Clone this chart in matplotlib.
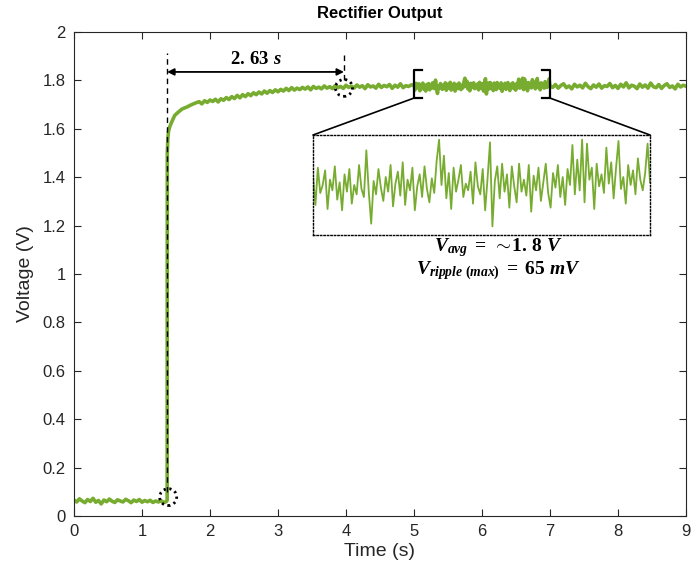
#!/usr/bin/env python3
"""Rectifier output trace with zoomed ripple inset"""

import numpy as np
import matplotlib
matplotlib.use('Agg')
import matplotlib.pyplot as plt
from matplotlib.patches import Ellipse, ConnectionPatch

# --------------------------------------------------
# readings (V)
baseline_t0, baseline_dt = 0.0, 0.04
baseline_v = [0.066, 0.058, 0.071, 0.062, 0.055, 0.068, 0.060, 0.073, 0.057,
              0.064, 0.050, 0.066, 0.059, 0.070, 0.061, 0.056, 0.067, 0.062,
              0.058, 0.069, 0.063, 0.055, 0.066, 0.060, 0.068, 0.057, 0.064,
              0.059, 0.065, 0.056, 0.062, 0.058, 0.063, 0.055, 0.060]

rise_t = [1.37, 1.372, 1.38, 1.39, 1.41, 1.44, 1.48, 1.53, 1.59, 1.66, 1.73]
rise_v = [0.065, 1.50, 1.56, 1.59, 1.61, 1.63, 1.655, 1.668, 1.682, 1.690,
          1.700]

settle_t0, settle_dt = 1.80, 0.04
settle_v = [1.708, 1.712, 1.703, 1.716, 1.709, 1.719, 1.713, 1.722, 1.711, 1.724,
            1.718, 1.729, 1.721, 1.733, 1.725, 1.738, 1.728, 1.741, 1.733, 1.745,
            1.737, 1.749, 1.741, 1.752, 1.744, 1.756, 1.747, 1.758, 1.750, 1.761,
            1.753, 1.763, 1.756, 1.767, 1.758, 1.770, 1.760, 1.768, 1.762, 1.771,
            1.764, 1.773, 1.761, 1.775, 1.767, 1.772, 1.765, 1.777, 1.768, 1.774,
            1.766, 1.778, 1.770, 1.775, 1.767, 1.780, 1.771, 1.776, 1.769, 1.781,
            1.772, 1.778, 1.766, 1.782, 1.773, 1.777, 1.768, 1.784, 1.771, 1.779,
            1.774, 1.783, 1.767, 1.780, 1.772, 1.786, 1.770, 1.778, 1.775, 1.781]

# zoomed window 5 s .. 7 s
zoom_start, zoom_end = 5.0, 7.0
zoom_v = [1.782, 1.760, 1.788, 1.769, 1.775, 1.786, 1.757, 1.779, 1.771, 1.789,
          1.764, 1.777, 1.756, 1.783, 1.770, 1.787, 1.761, 1.775, 1.768, 1.790,
          1.772, 1.766, 1.801, 1.770, 1.746, 1.778, 1.768, 1.787, 1.773, 1.763,
          1.781, 1.770, 1.790, 1.759, 1.776, 1.785, 1.767, 1.792, 1.760, 1.779,
          1.771, 1.788, 1.756, 1.774, 1.783, 1.766, 1.789, 1.772, 1.762, 1.780,
          1.769, 1.793, 1.809, 1.775, 1.797, 1.765, 1.784, 1.757, 1.788, 1.770,
          1.779, 1.790, 1.766, 1.776, 1.771, 1.785, 1.761, 1.792, 1.774, 1.768,
          1.787, 1.756, 1.780, 1.807, 1.744, 1.778, 1.789, 1.765, 1.791, 1.770,
          1.783, 1.758, 1.789, 1.774, 1.762, 1.791, 1.770, 1.779, 1.767, 1.790,
          1.755, 1.782, 1.771, 1.788, 1.763, 1.777, 1.791, 1.769, 1.758, 1.784,
          1.773, 1.790, 1.766, 1.781, 1.760, 1.787, 1.775, 1.805, 1.768, 1.794,
          1.771, 1.809, 1.762, 1.806, 1.779, 1.788, 1.757, 1.791, 1.774, 1.783,
          1.769, 1.803, 1.776, 1.792, 1.765, 1.788, 1.808, 1.772, 1.781, 1.761,
          1.790, 1.775, 1.786, 1.768, 1.795, 1.779, 1.771, 1.784, 1.806, 1.777]

tail_t0, tail_dt = 7.04, 0.04
tail_v = [1.771, 1.783, 1.768, 1.779, 1.786, 1.770, 1.777, 1.765, 1.784, 1.773,
          1.780, 1.769, 1.788, 1.774, 1.766, 1.781, 1.772, 1.785, 1.768, 1.778,
          1.775, 1.787, 1.770, 1.779, 1.767, 1.784, 1.773, 1.790, 1.769, 1.780,
          1.776, 1.766, 1.785, 1.772, 1.781, 1.768, 1.789, 1.774, 1.770, 1.783,
          1.767, 1.779, 1.786, 1.771, 1.777, 1.765, 1.784, 1.773, 1.780, 1.776]

x_ticks = [0, 1, 2, 3, 4, 5, 6, 7, 8, 9]
y_ticks = [0, 0.2, 0.4, 0.6, 0.8, 1.0, 1.2, 1.4, 1.6, 1.8, 2.0]
y_tick_labels = ['0', '0.2', '0.4', '0.6', '0.8', '1', '1.2', '1.4', '1.6',
                 '1.8', '2']

t_on, t_settle = 1.37, 3.97
delay_label = r'$\mathbf{2.\,63}\ \mathit{s}$'
avg_label = r'$V_{avg}\;=\;\sim\!\mathbf{1.\,8}\ V$'
ripple_label = r'$V_{ripple\ (max)}\;=\;\mathbf{65}\ mV$'

GREEN = '#77AC30'
DARK = '#262626'


# --------------------------------------------------
def main():
    """Draw the figure"""

    plt.rcParams['font.family'] = ['Liberation Sans', 'DejaVu Sans']
    plt.rcParams['mathtext.fontset'] = 'custom'
    plt.rcParams['mathtext.rm'] = 'Liberation Serif:bold'
    plt.rcParams['mathtext.it'] = 'Liberation Serif:bold:italic'
    plt.rcParams['mathtext.bf'] = 'Liberation Serif:bold'

    t_base = baseline_t0 + baseline_dt * np.arange(len(baseline_v))
    t_settle_arr = settle_t0 + settle_dt * np.arange(len(settle_v))
    t_zoom = np.linspace(zoom_start, zoom_end, len(zoom_v))
    t_tail = tail_t0 + tail_dt * np.arange(len(tail_v))

    t = np.concatenate([t_base, rise_t, t_settle_arr, t_zoom, t_tail])
    v = np.concatenate([baseline_v, rise_v, settle_v, zoom_v, tail_v])

    fig = plt.figure(figsize=(6.91, 5.71), dpi=100)
    ax = fig.add_axes([74 / 691, 1 - 516 / 571, 612 / 691, 484 / 571])
    ax.plot(t, v, color=GREEN, lw=2.6, solid_joinstyle='round')

    ax.set_xlim(0, 9)
    ax.set_ylim(0, 2)
    ax.set_xticks(x_ticks)
    ax.set_yticks(y_ticks)
    ax.set_yticklabels(y_tick_labels)
    ax.tick_params(direction='in', top=True, right=True, labelsize=12,
                   colors=DARK, length=5, width=0.8, pad=6)
    for s in ax.spines.values():
        s.set_color(DARK)
        s.set_linewidth(0.8)
    ax.set_xlabel('Time (s)', fontsize=14, color=DARK, labelpad=3)
    ax.set_ylabel('Voltage (V)', fontsize=14, color=DARK, labelpad=6)
    ax.set_title('Rectifier Output', fontsize=12, fontweight='bold',
                 color='black', pad=10)

    # rise time marker
    ax.plot([t_on, t_on], [0.10, 1.915], color='black', lw=1, ls=(0, (4, 3)))
    ax.plot([t_settle, t_settle], [1.80, 1.915], color='black', lw=1,
            ls=(0, (4, 3)))
    ax.annotate('', xy=(t_on, 1.835), xytext=(t_settle, 1.835),
                arrowprops=dict(arrowstyle='<|-|>', color='black', lw=1.3,
                                mutation_scale=10, shrinkA=0, shrinkB=0))
    ax.text(2.68, 1.885, delay_label, fontsize=13.5, ha='center', va='center')
    for cx, cy in [(1.385, 0.078), (3.97, 1.769)]:
        ax.add_patch(Ellipse((cx, cy), 0.25, 0.07, fill=False, zorder=5,
                             ec='black', lw=2.0, ls=(0, (0.8, 1.3))))

    # brackets around zoomed window
    arm = 0.12
    ax.plot([zoom_start + arm, zoom_start, zoom_start, zoom_start + arm],
            [1.843, 1.843, 1.727, 1.727], color='black', lw=1.6, zorder=4)
    ax.plot([zoom_end - arm, zoom_end, zoom_end, zoom_end - arm],
            [1.843, 1.843, 1.727, 1.727], color='black', lw=1.6, zorder=4)

    # inset
    axins = fig.add_axes([313 / 691, 1 - 235 / 571, 337 / 691, 100 / 571])
    axins.plot(t_zoom, zoom_v, color=GREEN, lw=1.3)
    axins.set_xlim(zoom_start, zoom_end)
    axins.set_ylim(1.7375, 1.8125)
    axins.set_xticks([])
    axins.set_yticks([])
    for s in axins.spines.values():
        s.set_linestyle((0, (1, 1.5)))
        s.set_linewidth(1.0)
        s.set_color('black')

    for xa, xb in [(zoom_start, 0), (zoom_end, 1)]:
        con = ConnectionPatch(xyA=(xa, 1.727), coordsA=ax.transData,
                              xyB=(xb, 1), coordsB=axins.transAxes,
                              color='black', lw=1.2)
        fig.add_artist(con)

    ax.text(6.24, 1.11, avg_label, fontsize=14, ha='center', va='center')
    ax.text(6.24, 1.015, ripple_label, fontsize=14, ha='center',
            va='center')

    fig.savefig('out.png', dpi=100)


# --------------------------------------------------
if __name__ == '__main__':
    main()
